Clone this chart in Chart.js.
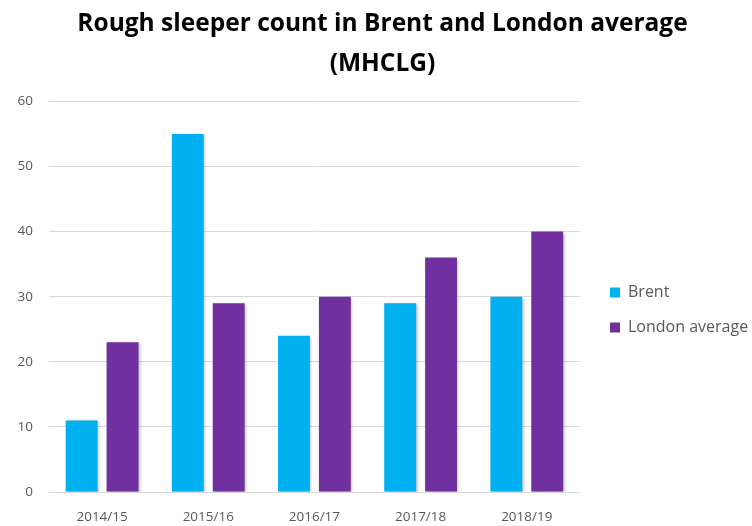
<!DOCTYPE html>
<html>
<head>
<meta charset="utf-8">
<script src="https://cdn.jsdelivr.net/npm/chart.js@4.4.0/dist/chart.umd.min.js"></script>
<style>
  html, body { margin: 0; padding: 0; background: #fff; }
  #wrap { width: 752px; height: 526px; }
</style>
</head>
<body>
<div id="wrap"><canvas id="myChart" width="752" height="526"></canvas></div>
<script>
const years = ['2014/15', '2015/16', '2016/17', '2017/18', '2018/19'];
const brent = [11, 55, 24, 29, 30];
const londonAvg = [23, 29, 30, 36, 40];
const yTicks = [0, 10, 20, 30, 40, 50, 60];

// soft shadow behind the bars, like the office chart
const barShadow = {
    id: 'barShadow',
    beforeDatasetsDraw(chart) {
        const c = chart.ctx;
        c.save();
        c.shadowColor = 'rgba(0,0,0,0.28)';
        c.shadowBlur = 3;
        c.shadowOffsetX = 1.5;
        c.shadowOffsetY = 1;
    },
    afterDatasetsDraw(chart) {
        chart.ctx.restore();
    }
};

// nudge the legend and title to where the reference has them
const placeBoxes = {
    id: 'placeBoxes',
    afterLayout(chart) {
        const lg = chart.legend;
        const w = lg.right - lg.left;
        const h = lg.bottom - lg.top;
        lg.left = 591;
        lg.right = lg.left + w;
        lg.top = 310 - h / 2;
        lg.bottom = lg.top + h;

        const t = chart.titleBlock;
        t.left += 9;
        t.right += 9;
    }
};

const ctx = document.getElementById('myChart').getContext('2d');
new Chart(ctx, {
    type: 'bar',
    data: {
        labels: years,
        datasets: [
            { label: 'Brent', data: brent, backgroundColor: '#00B0F0' },
            { label: 'London average', data: londonAvg, backgroundColor: '#7030A0' }
        ]
    },
    options: {
        responsive: false,
        animation: false,
        categoryPercentage: 0.77,
        barPercentage: 0.78,
        layout: { padding: { left: 0, right: 5, top: 0, bottom: 0 } },
        plugins: {
            title: {
                display: true,
                text: ['Rough sleeper count in Brent and London average', '(MHCLG)'],
                color: '#000',
                font: { family: 'Open Sans', size: 24.5, weight: 'bold', lineHeight: 1.64 },
                padding: { top: 4, bottom: 17 }
            },
            legend: {
                position: 'right',
                align: 'center',
                labels: {
                    boxWidth: 10,
                    boxHeight: 10,
                    padding: 19,
                    color: '#595959',
                    font: { family: 'Open Sans', size: 16 }
                }
            },
            tooltip: { enabled: false }
        },
        scales: {
            x: {
                afterFit: axis => { axis.height = 34; },
                grid: { display: false, drawTicks: false },
                border: { color: '#d9d9d9' },
                ticks: { color: '#595959', padding: 17, font: { family: 'Open Sans', size: 13.5 } }
            },
            y: {
                min: 0,
                max: 60,
                afterBuildTicks: axis => { axis.ticks = yTicks.map(v => ({ value: v })); },
                afterFit: axis => { axis.width = 49; },
                grid: { color: '#d9d9d9', drawTicks: false },
                border: { display: false },
                ticks: { color: '#595959', padding: 16, font: { family: 'Open Sans', size: 13.5 } }
            }
        }
    },
    plugins: [barShadow, placeBoxes]
});
</script>
</body>
</html>
